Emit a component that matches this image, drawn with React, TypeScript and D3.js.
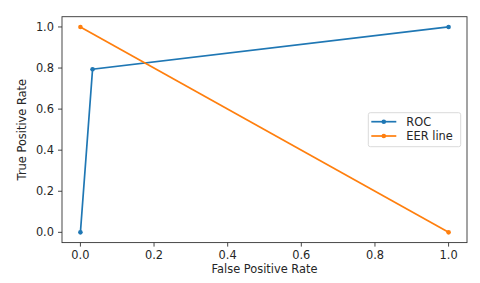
import * as d3 from 'd3';

const rocFpr = [0, 0.033, 1];
const rocTpr = [0, 0.794, 1];
const eerFpr = [0, 1];
const eerTpr = [1, 0];
const xTicks = [0, 0.2, 0.4, 0.6, 0.8, 1.0];
const yTicks = [0, 0.2, 0.4, 0.6, 0.8, 1.0];
const seriesNames = ['ROC', 'EER line'];
const colors = ['#1f77b4', '#ff7f0e'];

const W = 480;
const H = 283;
const FONT = '"DejaVu Sans", sans-serif';
const FS = 11.4;

export default function App() {
  const left = 62;
  const right = 467;
  const top = 16.7;
  const bottom = 242.6;

  const x = d3.scaleLinear().domain([-0.05, 1.05]).range([left, right]);
  const y = d3.scaleLinear().domain([-0.05, 1.05]).range([bottom, top]);

  const line = d3
    .line<[number, number]>()
    .x((d) => x(d[0]))
    .y((d) => y(d[1]));

  const series = [
    rocFpr.map((v, i) => [v, rocTpr[i]] as [number, number]),
    eerFpr.map((v, i) => [v, eerTpr[i]] as [number, number]),
  ];

  // legend box
  const lx = 368.3;
  const ly = 112.7;
  const lw = 92.4;
  const lh = 34;

  return (
    <svg
      width={W}
      height={H}
      style={{ position: 'absolute', left: 0, top: 0, background: '#fff' }}
      fontFamily={FONT}
    >
      <rect x={0} y={0} width={W} height={H} fill="#fff" />

      {series.map((pts, si) => (
        <g key={si}>
          <path d={line(pts) ?? undefined} fill="none" stroke={colors[si]} strokeWidth={1.7} />
          {pts.map((p, i) => (
            <circle key={i} cx={x(p[0])} cy={y(p[1])} r={2.3} fill={colors[si]} />
          ))}
        </g>
      ))}

      {/* spines */}
      <rect
        x={left}
        y={top}
        width={right - left}
        height={bottom - top}
        fill="none"
        stroke="#333"
        strokeWidth={0.9}
      />

      {/* x ticks */}
      {xTicks.map((t) => (
        <g key={`x${t}`}>
          <line x1={x(t)} x2={x(t)} y1={bottom} y2={bottom + 4} stroke="#333" strokeWidth={0.9} />
          <text x={x(t)} y={bottom + 16.5} textAnchor="middle" fontSize={FS} fill="#262626">
            {t.toFixed(1)}
          </text>
        </g>
      ))}

      {/* y ticks */}
      {yTicks.map((t) => (
        <g key={`y${t}`}>
          <line x1={left - 4} x2={left} y1={y(t)} y2={y(t)} stroke="#333" strokeWidth={0.9} />
          <text
            x={left - 8}
            y={y(t)}
            dy="0.36em"
            textAnchor="end"
            fontSize={FS}
            fill="#262626"
          >
            {t.toFixed(1)}
          </text>
        </g>
      ))}

      <text x={(left + right) / 2} y={273} textAnchor="middle" fontSize={FS} fill="#262626">
        False Positive Rate
      </text>
      <text
        transform={`translate(25.5, ${(top + bottom) / 2}) rotate(-90)`}
        textAnchor="middle"
        fontSize={FS}
        fill="#262626"
      >
        True Positive Rate
      </text>

      {/* legend */}
      <rect
        x={lx}
        y={ly}
        width={lw}
        height={lh}
        rx={2}
        fill="#fff"
        fillOpacity={0.8}
        stroke="#d6d6d6"
        strokeWidth={0.9}
      />
      {seriesNames.map((name, i) => {
        const cy = ly + 9 + i * 14.3;
        return (
          <g key={name}>
            <line x1={lx + 3} x2={lx + 28} y1={cy} y2={cy} stroke={colors[i]} strokeWidth={1.7} />
            <circle cx={lx + 15.5} cy={cy} r={2.3} fill={colors[i]} />
            <text x={lx + 38} y={cy} dy="0.36em" fontSize={FS} fill="#262626">
              {name}
            </text>
          </g>
        );
      })}
    </svg>
  );
}
